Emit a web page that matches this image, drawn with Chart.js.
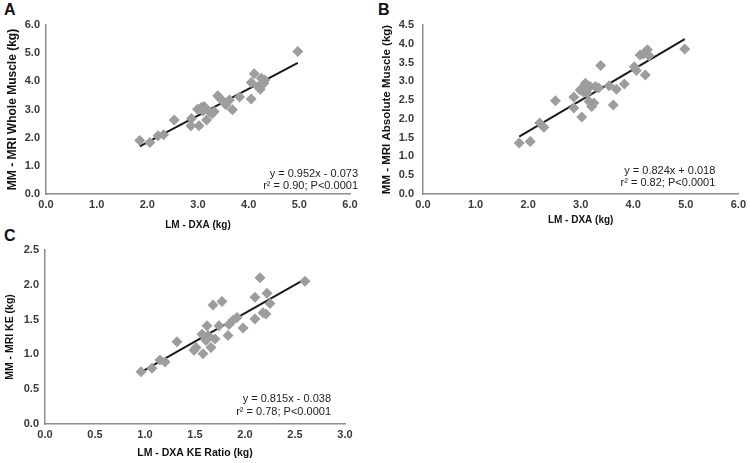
<!DOCTYPE html>
<html>
<head>
<meta charset="utf-8">
<script src="https://cdn.jsdelivr.net/npm/chart.js@4.4.0/dist/chart.umd.min.js"></script>
<style>
  body { margin: 0; width: 750px; height: 463px; background: #fff; position: relative; overflow: hidden; }
  canvas { position: absolute; }
  .tag { position: absolute; font: bold 16px 'Liberation Sans', Arial, sans-serif; line-height: 16px; color: #111; }
</style>
</head>
<body>
<div class="tag" style="left:4px; top:2px;">A</div>
<div class="tag" style="left:378px; top:2px;">B</div>
<div class="tag" style="left:4px; top:228px;">C</div>
<canvas id="chartA" width="375" height="240" style="left:0; top:0;"></canvas>
<canvas id="chartB" width="375" height="240" style="left:375px; top:0;"></canvas>
<canvas id="chartC" width="375" height="235" style="left:0; top:228px;"></canvas>
<script>
// panel A: LM - DXA vs MRI whole muscle
const aX = [1.85, 2.05, 2.21, 2.32, 2.53, 2.86, 2.87, 3.02, 2.99, 3.07, 3.10, 3.12, 3.17, 3.22, 3.28, 3.32, 3.39, 3.45, 3.52, 3.55, 3.62, 3.68, 3.82, 4.05, 4.05, 4.11, 4.18, 4.23, 4.25, 4.30, 4.32, 4.97];
const aY = [1.90, 1.83, 2.07, 2.10, 2.63, 2.42, 2.68, 2.42, 3.01, 3.08, 2.95, 3.11, 2.63, 2.93, 2.85, 2.93, 3.49, 3.37, 3.25, 3.17, 3.34, 2.99, 3.44, 3.96, 3.37, 4.27, 3.82, 3.72, 4.11, 3.93, 4.05, 5.06];

// panel B: LM - DXA vs MRI absolute muscle
const bX = [1.83, 2.04, 2.22, 2.30, 2.52, 2.87, 2.87, 3.02, 2.99, 3.05, 3.06, 3.09, 3.12, 3.16, 3.18, 3.21, 3.25, 3.28, 3.34, 3.38, 3.54, 3.62, 3.68, 3.83, 4.02, 4.06, 4.13, 4.19, 4.23, 4.27, 4.30, 4.98];
const bY = [1.36, 1.40, 1.89, 1.78, 2.48, 2.58, 2.29, 2.05, 2.77, 2.72, 2.86, 2.95, 2.69, 2.46, 2.86, 2.33, 2.42, 2.86, 2.82, 3.42, 2.88, 2.37, 2.79, 2.93, 3.39, 3.29, 3.70, 3.73, 3.17, 3.84, 3.68, 3.86];

// panel C: LM - DXA KE ratio vs MRI KE
const cX = [0.96, 1.07, 1.15, 1.20, 1.32, 1.49, 1.51, 1.57, 1.58, 1.61, 1.62, 1.63, 1.66, 1.68, 1.70, 1.74, 1.77, 1.83, 1.84, 1.88, 1.92, 1.98, 2.10, 2.10, 2.15, 2.18, 2.21, 2.22, 2.25, 2.60];
const cY = [0.75, 0.80, 0.92, 0.89, 1.18, 1.06, 1.10, 1.29, 1.01, 1.20, 1.41, 1.27, 1.10, 1.71, 1.22, 1.41, 1.76, 1.27, 1.43, 1.49, 1.53, 1.38, 1.51, 1.82, 2.10, 1.60, 1.58, 1.88, 1.73, 2.05];

// regression fits [slope, intercept] and their labels
const fits = [[0.952, -0.073], [0.824, 0.018], [0.815, -0.038]];
const fitLabels = [
  ['y = 0.952x - 0.073', 'r\u00B2 = 0.90; P<0.0001'],
  ['y = 0.824x + 0.018', 'r\u00B2 = 0.82; P<0.0001'],
  ['y = 0.815x - 0.038', 'r\u00B2 = 0.78; P<0.0001']
];

const xTitles = ['LM - DXA (kg)', 'LM - DXA (kg)', 'LM - DXA KE Ratio (kg)'];
const yTitles = ['MM - MRI Whole Muscle (kg)', 'MM - MRI Absolute Muscle (kg)', 'MM - MRI KE (kg)'];

const FONT = "'Liberation Sans', Arial, sans-serif";
const NARROW = "'Liberation Sans Narrow', 'Liberation Sans', Arial, sans-serif";

const fitLabel = {
  id: 'fitLabel',
  afterDraw(chart, args, opts) {
    const ctx = chart.ctx;
    const area = chart.chartArea;
    ctx.save();
    ctx.font = '11px ' + FONT;
    ctx.fillStyle = '#222';
    ctx.textAlign = 'right';
    ctx.textBaseline = 'middle';
    opts.lines.forEach(function(t, i) {
      ctx.fillText(t, area.right + opts.dx, area.bottom + opts.dy + i * opts.gap);
    });
    ctx.restore();
  }
};

function makeChart(id, xs, ys, k, sc) {
  const pts = xs.map(function(x, i) { return {x: x, y: ys[i]}; });
  const lo = Math.min.apply(null, xs), hi = Math.max.apply(null, xs);
  const f = fits[k];
  const line = [{x: lo, y: f[0] * lo + f[1]}, {x: hi, y: f[0] * hi + f[1]}];
  const tickFont = {family: NARROW, size: 11, weight: 'bold'};
  return new Chart(document.getElementById(id), {
    type: 'scatter',
    data: {
      datasets: [{
        data: pts,
        pointStyle: 'rectRot',
        pointRadius: 5.5,
        backgroundColor: '#9d9d9d',
        borderWidth: 0
      }, {
        type: 'line',
        data: line,
        borderColor: '#1a1a1a',
        borderWidth: 2,
        pointRadius: 0,
        fill: false
      }]
    },
    options: {
      responsive: false,
      animation: false,
      layout: { padding: sc.pad },
      plugins: {
        legend: { display: false },
        tooltip: { enabled: false },
        fitLabel: { lines: fitLabels[k], dx: sc.dx, dy: sc.dy, gap: sc.gap }
      },
      scales: {
        x: {
          type: 'linear', min: 0, max: sc.xMax,
          afterFit: function(s) { s.height = sc.xH; },
          ticks: { stepSize: sc.xStep, padding: 4, color: '#3a3a3a', font: tickFont,
                   callback: function(v) { return v.toFixed(1); } },
          grid: { drawOnChartArea: false, drawTicks: false },
          border: { color: '#8c8c8c', width: 1.5 },
          title: { display: true, text: xTitles[k], color: '#111',
                   font: {family: FONT, size: sc.xtSize, weight: 'bold'},
                   padding: { top: 0, bottom: sc.xtPad } }
        },
        y: {
          type: 'linear', min: 0, max: sc.yMax,
          afterFit: function(s) { s.width = sc.yW; },
          ticks: { stepSize: sc.yStep, padding: sc.yPad, color: '#3a3a3a', font: tickFont,
                   callback: function(v) { return v.toFixed(1); } },
          grid: { drawOnChartArea: false, drawTicks: false },
          border: { color: '#8c8c8c', width: 1.5 },
          title: { display: true, text: yTitles[k], color: '#111',
                   font: {family: FONT, size: sc.ytSize, weight: 'bold'},
                   padding: { top: sc.ytPad, bottom: 0 } }
        }
      }
    },
    plugins: [fitLabel]
  });
}

makeChart('chartA', aX, aY, 0, {
  pad: {top: 25, right: 25, bottom: 0, left: 0}, xMax: 6, xStep: 1, yMax: 6, yStep: 1,
  xH: 46, yW: 46, yPad: 6, xtSize: 10, xtPad: 9, ytSize: 12, ytPad: 5, dx: 8, dy: -20, gap: 11.5
});
makeChart('chartB', bX, bY, 1, {
  pad: {top: 25, right: 10, bottom: 0, left: 0}, xMax: 6, xStep: 1, yMax: 4.5, yStep: 0.5,
  xH: 46, yW: 48, yPad: 9, xtSize: 10, xtPad: 14, ytSize: 11.5, ytPad: 5, dx: -23, dy: -22.6, gap: 11.6
});
makeChart('chartC', cX, cY, 2, {
  pad: {top: 22, right: 30, bottom: 0, left: 0}, xMax: 3, xStep: 0.5, yMax: 2.5, yStep: 0.5,
  xH: 39, yW: 45, yPad: 6, xtSize: 10.5, xtPad: 4, ytSize: 10.5, ytPad: 4, dx: -14, dy: -25, gap: 12.5
});
</script>
</body>
</html>
